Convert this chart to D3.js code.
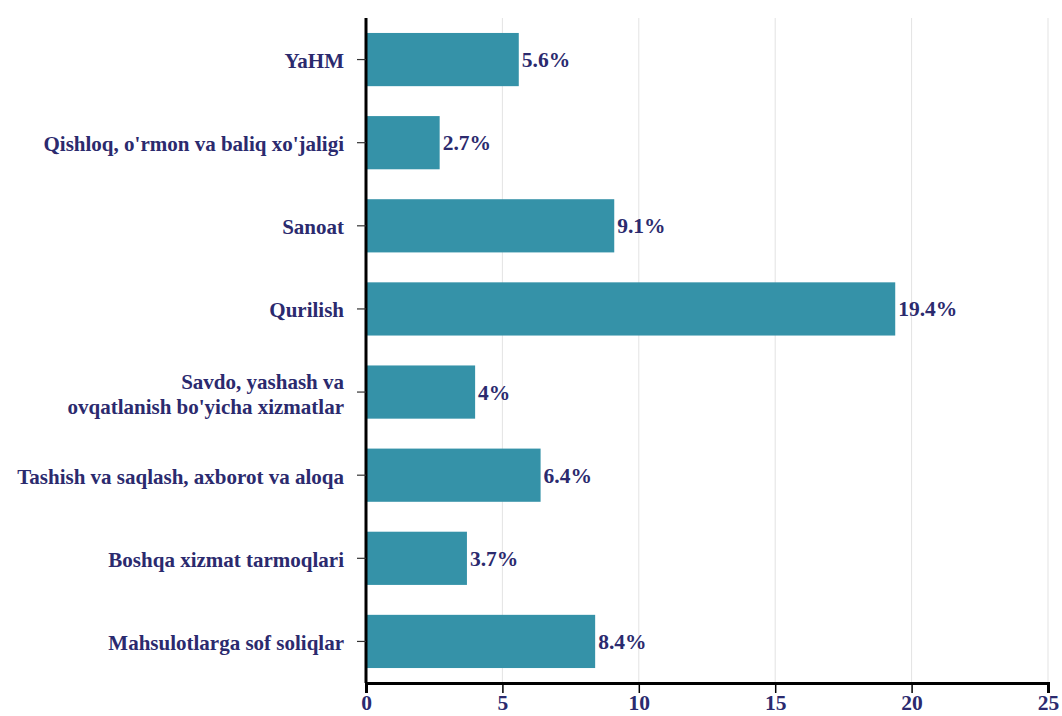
<!DOCTYPE html>
<html>
<head>
<meta charset="utf-8">
<script src="https://cdn.jsdelivr.net/npm/d3@7"></script>
<style>
  body { margin: 0; background: #fff; }
  svg text { font-family: 'Times New Roman'; font-weight: bold; }
</style>
</head>
<body>
<script>
// sectors and their share (%)
var categories = [
  "YaHM",
  "Qishloq, o'rmon va baliq xo'jaligi",
  "Sanoat",
  "Qurilish",
  "Savdo, yashash va|ovqatlanish bo'yicha xizmatlar",
  "Tashish va saqlash, axborot va aloqa",
  "Boshqa xizmat tarmoqlari",
  "Mahsulotlarga sof soliqlar"
];
var values = [5.6, 2.7, 9.1, 19.4, 4, 6.4, 3.7, 8.4];
var xTicks = [0, 5, 10, 15, 20, 25];

var FONT = "'Times New Roman'",
    INK = "#2b2a6e";

var width = 1062,
    height = 716,
    margin = { top: 18, right: 14, bottom: 33, left: 366 };

var innerW = width - margin.left - margin.right,
    innerH = height - margin.top - margin.bottom;

var svg = d3.select("body").append("svg")
    .attr("width", width)
    .attr("height", height)
  .append("g")
    .attr("transform", "translate(" + margin.left + "," + margin.top + ")");

var x = d3.scaleLinear().domain([0, 25]).range([0, innerW]);
var y = d3.scaleBand().domain(categories).range([0, innerH]).paddingInner(0.36).paddingOuter(0.18);

// grid
svg.selectAll("line.grid")
    .data(xTicks.slice(1))
  .enter().append("line")
    .attr("class", "grid")
    .attr("x1", function(d) { return x(d); })
    .attr("x2", function(d) { return x(d); })
    .attr("y1", 0)
    .attr("y2", innerH)
    .attr("stroke", "#e3e3e3")
    .attr("stroke-width", 1);

// bars
svg.selectAll("rect.bar")
    .data(values)
  .enter().append("rect")
    .attr("class", "bar")
    .attr("x", 0)
    .attr("y", function(d, i) { return y(categories[i]); })
    .attr("width", function(d) { return x(d); })
    .attr("height", y.bandwidth())
    .attr("fill", "#3592a8");

// value labels
svg.selectAll("text.val")
    .data(values)
  .enter().append("text")
    .attr("class", "val")
    .attr("x", function(d) { return x(d) + 3; })
    .attr("y", function(d, i) { return y(categories[i]) + y.bandwidth() / 2; })
    .attr("dy", ".35em")
    .style("font-family", FONT)
    .style("font-size", "21.5px")
    .style("fill", INK)
    .text(function(d) { return d + "%"; });

// x axis
var xAxis = svg.append("g")
    .attr("transform", "translate(0," + innerH + ")")
    .call(d3.axisBottom(x).tickValues(xTicks).tickSize(10).tickPadding(2));
xAxis.attr("font-family", null);
xAxis.select(".domain").attr("stroke", "#000").attr("stroke-width", 3);
xAxis.selectAll(".tick line").attr("stroke", "#000").attr("stroke-width", 1.5);
xAxis.selectAll("text")
    .style("font-family", FONT)
    .style("font-size", "21.5px")
    .style("fill", INK);

// y axis
var yAxis = svg.append("g")
    .call(d3.axisLeft(y).tickSize(9).tickPadding(8).tickFormat(function() { return ""; }));
yAxis.attr("font-family", null);
yAxis.select(".domain").attr("stroke", "#000").attr("stroke-width", 3).attr("d", "M0,0V" + innerH);
yAxis.selectAll(".tick line").attr("stroke", "#333").attr("stroke-width", 1.2);

// category labels, with line breaks
yAxis.selectAll(".tick").each(function(d) {
  var lines = d.split("|");
  var t = d3.select(this).append("text")
      .attr("x", -22)
      .attr("text-anchor", "end")
      .style("font-family", FONT)
      .style("font-size", "21px")
      .style("fill", INK);
  lines.forEach(function(l, i) {
    t.append("tspan")
      .attr("x", -22)
      .attr("dy", i === 0 ? ((0.4 - (lines.length - 1) * 0.55) + "em") : "1.2em")
      .text(l);
  });
});
</script>
</body>
</html>
